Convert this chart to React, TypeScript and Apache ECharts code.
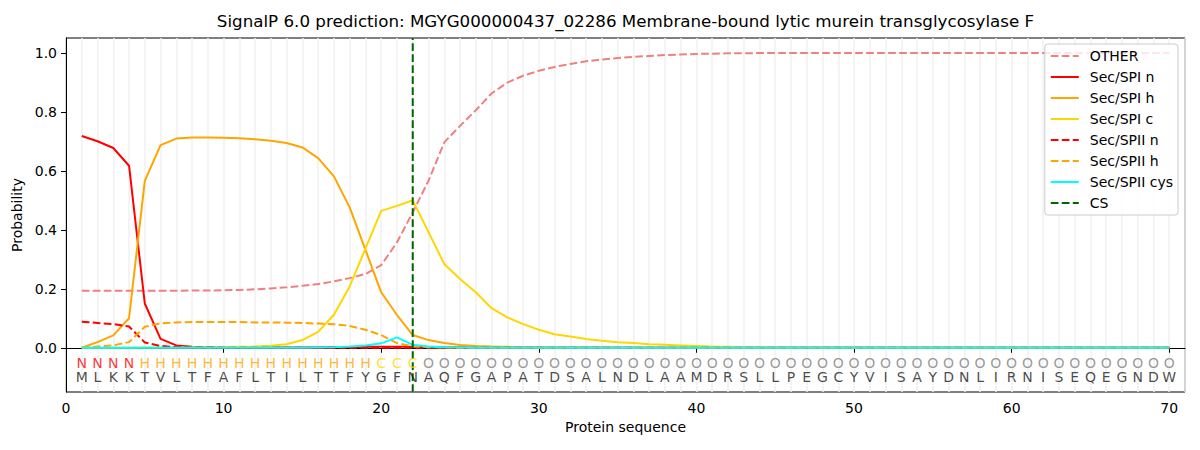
import React, { useEffect, useRef } from "react";
import * as echarts from "echarts";

const titleText =
  "SignalP 6.0 prediction: MGYG000000437_02286 Membrane-bound lytic murein transglycosylase F";

const residues = "MLKKTVLTFAFLTILTTFYGFNAQFGAPATDSALNDLAAMDRSLLPEGCYVISAYDNLIRNISEQEGNDW".split("");
const regions = "NNNNHHHHHHHHHHHHHHHCCCOOOOOOOOOOOOOOOOOOOOOOOOOOOOOOOOOOOOOOOOOOOOOOOO".split("");

const other = [
  0.193, 0.193, 0.193, 0.193, 0.193, 0.193, 0.193, 0.194, 0.194, 0.195,
  0.196, 0.198, 0.201, 0.205, 0.21, 0.216, 0.225, 0.236, 0.25, 0.28,
  0.357, 0.459, 0.566, 0.696, 0.752, 0.805, 0.862, 0.899, 0.922, 0.939,
  0.952, 0.962, 0.971, 0.977, 0.982, 0.986, 0.989, 0.992, 0.994, 0.996,
  0.997, 0.998, 0.998, 0.999, 0.999, 0.999, 0.999, 0.999, 0.999, 0.999,
  0.999, 0.999, 0.999, 0.999, 0.999, 0.999, 0.999, 0.999, 0.999, 0.999,
  0.999, 0.999, 0.999, 0.999, 0.999, 0.999, 0.999, 0.999, 0.999, 0.999,
];
const spiN = [
  0.718, 0.7, 0.677, 0.617, 0.15, 0.03, 0.008, 0.003, 0.002, 0.001,
  0.001, 0.001, 0.001, 0.001, 0.001, 0.001, 0.002, 0.002, 0.003, 0.003,
  0.003, 0.003, 0.002, 0.001, 0.001, 0.0, 0.0, 0.0, 0.0, 0.0,
  0.0, 0.0, 0.0, 0.0, 0.0, 0.0, 0.0, 0.0, 0.0, 0.0,
  0.0, 0.0, 0.0, 0.0, 0.0, 0.0, 0.0, 0.0, 0.0, 0.0,
  0.0, 0.0, 0.0, 0.0, 0.0, 0.0, 0.0, 0.0, 0.0, 0.0,
  0.0, 0.0, 0.0, 0.0, 0.0, 0.0, 0.0, 0.0, 0.0, 0.0,
];
const spiH = [
  0.0, 0.019, 0.042, 0.1, 0.566, 0.687, 0.709, 0.713, 0.713, 0.712,
  0.71, 0.707, 0.702, 0.694, 0.679, 0.643, 0.581, 0.476, 0.332, 0.188,
  0.111, 0.043, 0.026, 0.016, 0.009, 0.006, 0.004, 0.003, 0.002, 0.002,
  0.001, 0.001, 0.001, 0.001, 0.0, 0.0, 0.0, 0.0, 0.0, 0.0,
  0.0, 0.0, 0.0, 0.0, 0.0, 0.0, 0.0, 0.0, 0.0, 0.0,
  0.0, 0.0, 0.0, 0.0, 0.0, 0.0, 0.0, 0.0, 0.0, 0.0,
  0.0, 0.0, 0.0, 0.0, 0.0, 0.0, 0.0, 0.0, 0.0, 0.0,
];
const spiC = [
  0.0, 0.0, 0.0, 0.0, 0.001, 0.001, 0.001, 0.002, 0.002, 0.002,
  0.003, 0.004, 0.007, 0.012, 0.026, 0.054, 0.112, 0.208, 0.336, 0.464,
  0.481, 0.5, 0.392, 0.284, 0.233, 0.188, 0.134, 0.103, 0.08, 0.061,
  0.046, 0.038, 0.03, 0.024, 0.019, 0.016, 0.012, 0.01, 0.008, 0.006,
  0.004, 0.003, 0.002, 0.002, 0.001, 0.001, 0.001, 0.001, 0.0, 0.0,
  0.0, 0.0, 0.0, 0.0, 0.0, 0.0, 0.0, 0.0, 0.0, 0.0,
  0.0, 0.0, 0.0, 0.0, 0.0, 0.0, 0.0, 0.0, 0.0, 0.0,
];
const spiiN = [
  0.088, 0.084, 0.08, 0.072, 0.018, 0.006, 0.002, 0.001, 0.001, 0.0,
  0.0, 0.0, 0.0, 0.0, 0.0, 0.0, 0.0, 0.0, 0.0, 0.0,
  0.0, 0.0, 0.0, 0.0, 0.0, 0.0, 0.0, 0.0, 0.0, 0.0,
  0.0, 0.0, 0.0, 0.0, 0.0, 0.0, 0.0, 0.0, 0.0, 0.0,
  0.0, 0.0, 0.0, 0.0, 0.0, 0.0, 0.0, 0.0, 0.0, 0.0,
  0.0, 0.0, 0.0, 0.0, 0.0, 0.0, 0.0, 0.0, 0.0, 0.0,
  0.0, 0.0, 0.0, 0.0, 0.0, 0.0, 0.0, 0.0, 0.0, 0.0,
];
const spiiH = [
  0.0, 0.004, 0.008, 0.019, 0.071, 0.083, 0.086, 0.087, 0.087, 0.087,
  0.087, 0.086, 0.086, 0.085, 0.084, 0.082, 0.08, 0.074, 0.061, 0.043,
  0.016, 0.005, 0.002, 0.001, 0.0, 0.0, 0.0, 0.0, 0.0, 0.0,
  0.0, 0.0, 0.0, 0.0, 0.0, 0.0, 0.0, 0.0, 0.0, 0.0,
  0.0, 0.0, 0.0, 0.0, 0.0, 0.0, 0.0, 0.0, 0.0, 0.0,
  0.0, 0.0, 0.0, 0.0, 0.0, 0.0, 0.0, 0.0, 0.0, 0.0,
  0.0, 0.0, 0.0, 0.0, 0.0, 0.0, 0.0, 0.0, 0.0, 0.0,
];
const spiiCys = [
  0.0, 0.0, 0.0, 0.0, 0.0, 0.0, 0.0, 0.0, 0.0, 0.0,
  0.0, 0.0, 0.0, 0.0, 0.0, 0.001, 0.002, 0.004, 0.008, 0.015,
  0.035, 0.01, 0.004, 0.002, 0.001, 0.0, 0.0, 0.0, 0.0, 0.0,
  0.0, 0.0, 0.0, 0.0, 0.0, 0.0, 0.0, 0.0, 0.0, 0.0,
  0.0, 0.0, 0.0, 0.0, 0.0, 0.0, 0.0, 0.0, 0.0, 0.0,
  0.0, 0.0, 0.0, 0.0, 0.0, 0.0, 0.0, 0.0, 0.0, 0.0,
  0.0, 0.0, 0.0, 0.0, 0.0, 0.0, 0.0, 0.0, 0.0, 0.0,
];
const csPosition = 22;

const xTicks = [0, 10, 20, 30, 40, 50, 60, 70];
const yTicks = [0, 0.2, 0.4, 0.6, 0.8, 1.0];
const legendNames = [
  "OTHER",
  "Sec/SPI n",
  "Sec/SPI h",
  "Sec/SPI c",
  "Sec/SPII n",
  "Sec/SPII h",
  "Sec/SPII cys",
  "CS",
];

const X_MIN = 0;
const X_MAX = 71;
const Y_MIN = -0.15;
const Y_MAX = 1.05;
const TAG_ROW = -0.05;
const RES_ROW = -0.1;
const FONT = "DejaVu Sans";
const DASH = [7.7, 3.3];

const regionColor: Record<string, string> = {
  N: "#ff0000",
  H: "#ffa500",
  C: "#ffd700",
  O: "#808080",
};

function lineSeries(name: string, values: number[], color: string, dashed: boolean) {
  return {
    name,
    type: "line",
    xAxisIndex: 0,
    yAxisIndex: 0,
    data: values.map((v, i) => [i + 1, v]),
    symbol: "none",
    showSymbol: false,
    smooth: false,
    lineStyle: { color, width: 2, type: dashed ? DASH : "solid" },
    itemStyle: { color },
    z: 3,
  };
}

export default function App() {
  const ref = useRef<HTMLDivElement>(null);
  useEffect(() => {
    document.body.style.margin = "0";
    const chart = echarts.init(ref.current!, null, { renderer: "svg" });
    const option: any = {
      animation: false,
      textStyle: { fontFamily: FONT },
      title: {
        text: titleText,
        left: 625.5,
        top: 12,
        textAlign: "center",
        padding: 0,
        textStyle: { fontFamily: FONT, fontSize: 16.7, fontWeight: "normal", color: "#000" },
      },
      legend: {
        data: legendNames,
        orient: "vertical",
        right: 22,
        top: 44,
        padding: [5, 5, 5, 5],
        itemWidth: 28,
        itemHeight: 14,
        itemGap: 7,
        itemStyle: { opacity: 0 },
        backgroundColor: "rgba(255,255,255,0.8)",
        borderColor: "#cccccc",
        borderWidth: 1,
        borderRadius: 3,
        textStyle: { fontFamily: FONT, fontSize: 14, color: "#000", padding: [0, 0, 0, 6] },
        selectedMode: false,
      },
      grid: {
        left: 66,
        right: 15,
        top: 38,
        bottom: 58,
        show: true,
        borderColor: "#000",
        borderWidth: 1,
        backgroundColor: "transparent",
        containLabel: false,
      },
      xAxis: [
        {
          type: "value",
          min: X_MIN,
          max: X_MAX,
          interval: 10,
          name: "Protein sequence",
          nameLocation: "middle",
          nameGap: 28,
          nameTextStyle: { fontFamily: FONT, fontSize: 14, color: "#000" },
          axisLine: { show: true, lineStyle: { color: "#000", width: 1 } },
          axisTick: { show: true, length: 5, customValues: xTicks, lineStyle: { color: "#000" } },
          axisLabel: {
            show: true,
            customValues: xTicks,
            margin: 9,
            fontFamily: FONT,
            fontSize: 14,
            color: "#000",
            formatter: (v: number) => (xTicks.includes(v) ? String(v) : ""),
          },
          splitLine: { show: false },
        },
        {
          type: "value",
          min: X_MIN,
          max: X_MAX,
          interval: 1,
          position: "bottom",
          axisLine: { show: false },
          axisTick: { show: false },
          axisLabel: { show: false },
          splitLine: { show: true, lineStyle: { color: "#f0f0f0", width: 1.5 } },
        },
      ],
      yAxis: [
        {
          type: "value",
          min: Y_MIN,
          max: Y_MAX,
          name: "Probability",
          nameLocation: "middle",
          nameGap: 33,
          nameRotate: 90,
          nameTextStyle: { fontFamily: FONT, fontSize: 14, color: "#000" },
          axisLine: { show: true, lineStyle: { color: "#000", width: 1 } },
          axisTick: { show: true, length: 5, customValues: yTicks, lineStyle: { color: "#000" } },
          axisLabel: {
            show: true,
            customValues: yTicks,
            margin: 9,
            fontFamily: FONT,
            fontSize: 14,
            color: "#000",
            formatter: (v: number) => v.toFixed(1),
          },
          splitLine: { show: false },
        },
      ],
      series: [
        lineSeries("OTHER", other, "#f08080", true),
        lineSeries("Sec/SPI n", spiN, "#ff0000", false),
        lineSeries("Sec/SPI h", spiH, "#ffa500", false),
        lineSeries("Sec/SPI c", spiC, "#ffd700", false),
        lineSeries("Sec/SPII n", spiiN, "#ff0000", true),
        lineSeries("Sec/SPII h", spiiH, "#ffa500", true),
        lineSeries("Sec/SPII cys", spiiCys, "#00ffff", false),
        {
          name: "CS",
          type: "line",
          xAxisIndex: 0,
          yAxisIndex: 0,
          data: [
            [csPosition, Y_MIN],
            [csPosition, Y_MAX],
          ],
          symbol: "none",
          lineStyle: { color: "#006400", width: 2, type: DASH },
          itemStyle: { color: "#006400" },
          z: 4,
        },
        {
          name: "regions",
          type: "scatter",
          xAxisIndex: 0,
          yAxisIndex: 0,
          symbolSize: 1,
          itemStyle: { color: "transparent" },
          silent: true,
          data: regions.map((r, i) => ({
            value: [i + 1, TAG_ROW],
            name: r,
            label: { color: regionColor[r] },
          })),
          label: {
            show: true,
            position: "inside",
            formatter: (p: any) => p.name,
            fontFamily: FONT,
            fontSize: 14,
          },
          z: 5,
        },
        {
          name: "residues",
          type: "scatter",
          xAxisIndex: 0,
          yAxisIndex: 0,
          symbolSize: 1,
          itemStyle: { color: "transparent" },
          silent: true,
          data: residues.map((r, i) => ({ value: [i + 1, RES_ROW], name: r })),
          label: {
            show: true,
            position: "inside",
            formatter: (p: any) => p.name,
            fontFamily: FONT,
            fontSize: 14,
            color: "#1a1a1a",
          },
          z: 5,
        },
      ],
    };
    chart.setOption(option);
    return () => chart.dispose();
  }, []);
  return (
    <div
      ref={ref}
      style={{ position: "absolute", left: 0, top: 0, width: 1200, height: 450 }}
    />
  );
}
